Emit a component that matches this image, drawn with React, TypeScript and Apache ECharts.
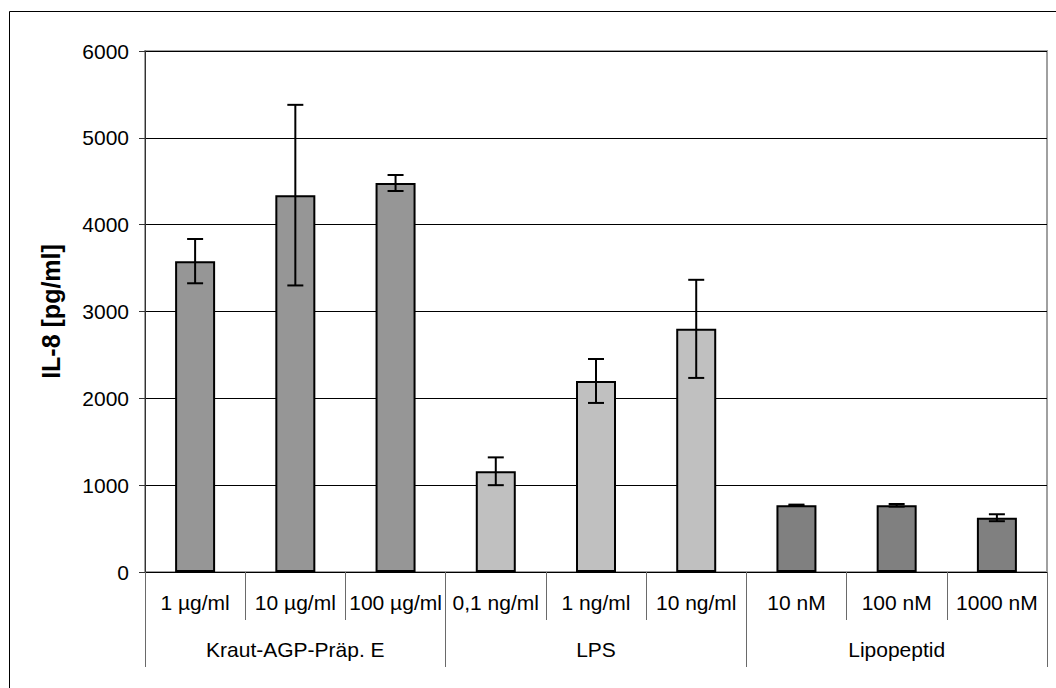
import React, { useEffect, useRef } from "react";
import * as echarts from "echarts";

const categories = ["1 µg/ml", "10 µg/ml", "100 µg/ml", "0,1 ng/ml", "1 ng/ml", "10 ng/ml", "10 nM", "100 nM", "1000 nM"];
const groups = ["Kraut-AGP-Präp. E", "LPS", "Lipopeptid"];
const groupOfCategory = [0, 0, 0, 1, 1, 1, 2, 2, 2];
const values = [3580, 4340, 4480, 1160, 2200, 2800, 770, 768, 625];
const errors = [255, 1040, 92, 160, 253, 565, 6, 15, 40];
const groupColors = ["#969696", "#c0c0c0", "#808080"];
const yTicks = { min: 0, max: 6000, interval: 1000 };
const yTitle = "IL-8 [pg/ml]";

const FONT = "'Liberation Sans', Arial, sans-serif";

export default function App() {
  const ref = useRef<HTMLDivElement>(null);
  useEffect(() => {
    if (!ref.current) return;
    const chart = echarts.init(ref.current, undefined, { renderer: "svg" });
    const barData = values.map((v, i) => ({
      value: v,
      itemStyle: { color: groupColors[groupOfCategory[i]], borderColor: "#000", borderWidth: 2 },
    }));
    const errData = values.map((v, i) => [i, v - errors[i], v + errors[i]]);
    chart.setOption({
      animation: false,
      backgroundColor: "#fff",
      textStyle: { fontFamily: FONT },
      graphic: [
        {
          type: "rect",
          shape: { x: 9.5, y: 11.5, width: 1200, height: 800 },
          style: { fill: "none", stroke: "#000", lineWidth: 1 },
          silent: true,
        },
      ],
      grid: {
        left: 145,
        top: 51,
        right: 9,
        bottom: 116,
        show: true,
        borderColor: "#a0a0a0",
        borderWidth: 2,
        backgroundColor: "#fff",
      },
      xAxis: [
        {
          type: "category",
          data: categories,
          position: "bottom",
          axisLine: { show: true, lineStyle: { color: "#000", width: 1 } },
          axisTick: { show: true, length: 48, lineStyle: { color: "#6a6a6a", width: 1 } },
          axisLabel: { fontFamily: FONT, fontSize: 21, color: "#000", margin: 20, interval: 0 },
          splitLine: { show: false },
        },
        {
          type: "category",
          data: groups,
          position: "bottom",
          axisLine: { show: false },
          axisTick: { show: true, length: 95, lineStyle: { color: "#6a6a6a", width: 1 } },
          axisLabel: { fontFamily: FONT, fontSize: 21, color: "#000", margin: 67, interval: 0 },
          splitLine: { show: false },
        },
      ],
      yAxis: {
        type: "value",
        min: yTicks.min,
        max: yTicks.max,
        interval: yTicks.interval,
        name: yTitle,
        nameLocation: "middle",
        nameRotate: 90,
        nameGap: 82,
        nameTextStyle: { fontFamily: FONT, fontSize: 25, fontWeight: "bold", color: "#000" },
        axisLine: { show: true, lineStyle: { color: "#333", width: 1 } },
        axisTick: { show: true, length: 6, lineStyle: { color: "#333" } },
        axisLabel: {
          fontFamily: FONT,
          fontSize: 21,
          color: "#000",
          margin: 16,
          formatter: (v: number) => String(v),
        },
        splitLine: { show: true, lineStyle: { color: "#000", width: 1 } },
      },
      series: [
        {
          type: "bar",
          xAxisIndex: 0,
          data: barData,
          barWidth: 40,
          z: 2,
        },
        {
          type: "custom",
          xAxisIndex: 0,
          data: errData,
          z: 5,
          renderItem: (params: any, api: any) => {
            const x = api.value(0);
            const lo = api.coord([x, api.value(1)]);
            const hi = api.coord([x, api.value(2)]);
            const half = 8;
            const style = { stroke: "#000", lineWidth: 2 };
            return {
              type: "group",
              children: [
                { type: "line", shape: { x1: lo[0], y1: lo[1], x2: hi[0], y2: hi[1] }, style },
                { type: "line", shape: { x1: hi[0] - half, y1: hi[1], x2: hi[0] + half, y2: hi[1] }, style },
                { type: "line", shape: { x1: lo[0] - half, y1: lo[1], x2: lo[0] + half, y2: lo[1] }, style },
              ],
            };
          },
        },
      ],
    });
    return () => chart.dispose();
  }, []);
  return (
    <div
      ref={ref}
      style={{ position: "fixed", left: 0, top: 0, width: 1056, height: 688, background: "#fff" }}
    />
  );
}
